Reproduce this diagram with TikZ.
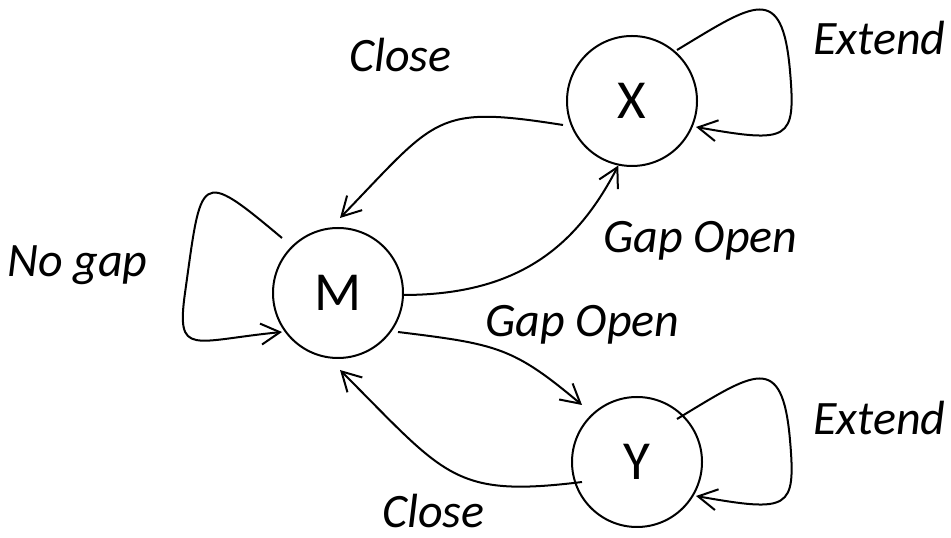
\documentclass[tikz,border=0pt]{standalone}
\usepackage{fontspec}
\setmainfont{Carlito}
\usetikzlibrary{arrows.meta,calc}
\begin{document}
\begin{tikzpicture}[x=1pt,y=1pt,
  state/.style={circle,draw,line width=2pt,minimum size=130pt,inner sep=0pt,
    font=\fontsize{55}{60}\selectfont},
  conn/.style={line width=2pt,-{Straight Barb[length=19pt,width=21pt]}},
  lbl/.style={anchor=base west,inner sep=0pt,font=\fontsize{48}{52}\selectfont\itshape}]
\useasboundingbox (0,0) rectangle (951,538);
\node[state] (M) at (338,245) {M};
\node[state] (X) at (632,437) {X};
\node[state] (Y) at (637,76) {Y};
% labels
\node[lbl] (lc1) at (349,466) {Close};
\node[lbl] (le1) at (813,483) {Extend};
\node[lbl] (lng) at (7,261) {No gap};
\node[lbl] (lg1) at (603,285) {Gap Open};
\node[lbl] (lg2) at (485,201) {Gap Open};
\node[lbl] (le2) at (813,103) {Extend};
\node[lbl] (lc2) at (382,10) {Close};
% X -> M (Close)
\draw[conn] ($(X)+(-69,-24)$) .. controls ($(X)+(-197.4,-3.7)$) and ($(M)+(99.3,175.7)$) .. ($(M)+(2,75)$);
% M -> X (Gap Open)
\draw[conn] ($(M)+(65,-2)$) .. controls ($(M)+(182,-2)$) and ($(X)+(-55,-144)$) .. (X.258);
% M -> Y (Gap Open)
\draw[conn] ($(M)+(60,-39)$) .. controls ($(M)+(159.3,-51.2)$) and ($(Y)+(-124,114.9)$) .. ($(Y)+(-55,57)$);
% Y -> M (Close)
\draw[conn] ($(Y)+(-55,-20)$) .. controls ($(Y)+(-184,-35.9)$) and ($(M)+(108,-183)$) .. ($(M)+(2,-77)$);
% M loop
\draw[conn] ($(M)+(-56,55)$) .. controls ($(M)+(-140.3,125.7)$) and ($(M)+(-136.3,118.8)$) .. ($(M)+(-153,0)$)
   .. controls ($(M)+(-162,-64.4)$) and ($(M)+(-145.6,-47.8)$) .. ($(M)+(-56,-39)$);
% X loop
\draw[conn] ($(X)+(45,51)$) .. controls ($(X)+(122,97.4)$) and ($(X)+(150.2,119.6)$) .. ($(X)+(158,30)$)
   .. controls ($(X)+(164,-39.7)$) and ($(X)+(157.6,-42.5)$) .. ($(X)+(64,-26)$);
% Y loop
\draw[conn] ($(Y)+(40,43)$) .. controls ($(Y)+(117,89.4)$) and ($(Y)+(145.2,111.6)$) .. ($(Y)+(153,22)$)
   .. controls ($(Y)+(159,-47.7)$) and ($(Y)+(152.6,-50.5)$) .. ($(Y)+(59,-34)$);
\end{tikzpicture}
\end{document}
